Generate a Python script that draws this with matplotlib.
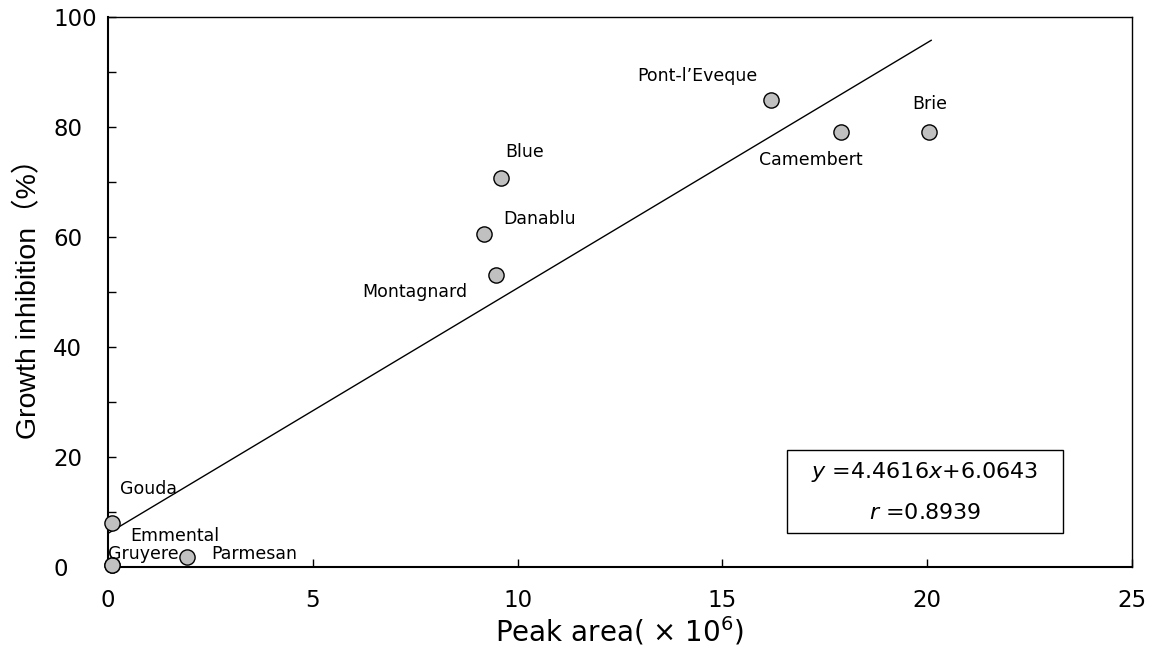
import numpy as np
import matplotlib
matplotlib.use('Agg')
import matplotlib.pyplot as plt
from matplotlib.patches import Rectangle
from matplotlib.ticker import MultipleLocator

plt.rcParams['font.family'] = ['DejaVu Sans', 'Noto Sans CJK JP']
plt.rcParams['mathtext.fontset'] = 'dejavusans'

# cheese data
cheeses = ['Gouda', 'Gruyere', 'Emmental', 'Parmesan', 'Montagnard', 'Danablu',
           'Blue', 'Pont-l’Eveque', 'Camembert', 'Brie']
peak_area = [0.1, 0.1, 0.1, 1.93, 9.47, 9.18, 9.6, 16.19, 17.9, 20.05]
inhibition = [8.0, 0.3, 0.3, 1.8, 53.1, 60.5, 70.7, 84.9, 79.1, 79.1]

# where each name is written (left edge, vertical centre)
label_x = [0.29, 0.0, 0.54, 2.52, 6.2, 9.65, 9.7, 12.92, 15.9, 19.63]
label_y = [14.2, 2.4, 5.6, 2.4, 50.0, 63.3, 75.5, 89.3, 74.0, 84.2]

slope = 4.4616
intercept = 6.0643
r_value = 0.8939
fit_x = [0.0, 20.1]

fig = plt.figure(figsize=(11.57, 6.5), dpi=100)
ax = fig.add_axes([0.0933, 0.128, 0.885, 0.846])

fit_x = np.array(fit_x)
ax.plot(fit_x, slope * fit_x + intercept, color='black', lw=1.0, zorder=2)
ax.scatter(peak_area, inhibition, s=120, facecolor='#c0c0c0', edgecolor='black',
           linewidth=1.0, zorder=3, clip_on=False)

for name, lx, ly in zip(cheeses, label_x, label_y):
    ax.text(lx, ly, name, fontsize=12.5, ha='left', va='center',
            family=['DejaVu Sans', 'Noto Sans CJK JP'], zorder=4)

ax.set_xlim(0, 25)
ax.set_ylim(0, 100)
ax.xaxis.set_major_locator(MultipleLocator(5))
ax.yaxis.set_major_locator(MultipleLocator(20))
ax.yaxis.set_minor_locator(MultipleLocator(10))
ax.tick_params(axis='both', which='both', direction='in', labelsize=16.5,
               top=False, right=False)
ax.tick_params(axis='both', which='major', length=6, width=1)
ax.tick_params(axis='y', which='minor', length=6, width=1)
ax.tick_params(axis='x', pad=16)
ax.tick_params(axis='y', pad=39.5)
for lab in ax.get_yticklabels():
    lab.set_horizontalalignment('left')
for sp in ax.spines.values():
    sp.set_linewidth(1.0)
ax.spines['left'].set_linewidth(1.5)
ax.spines['bottom'].set_linewidth(1.5)

ax.set_xlabel('Peak area( × 10$^{6}$)', fontsize=20, labelpad=1.5)
ax.set_ylabel('Growth inhibition（%）', fontsize=20.5, labelpad=8,
              family=['Liberation Sans', 'Noto Sans CJK JP'])

# equation box
ax.add_patch(Rectangle((0.663, 0.062), 0.27, 0.151, transform=ax.transAxes,
                       facecolor='white', edgecolor='black', lw=1.0, zorder=5))
ax.text(0.798, 0.173, f'$y$ ={slope}$x$+{intercept}', transform=ax.transAxes,
        ha='center', va='center', fontsize=16, zorder=6)
ax.text(0.798, 0.098, f'$r$ ={r_value}', transform=ax.transAxes,
        ha='center', va='center', fontsize=16, zorder=6)

fig.savefig('out.png', dpi=100)
